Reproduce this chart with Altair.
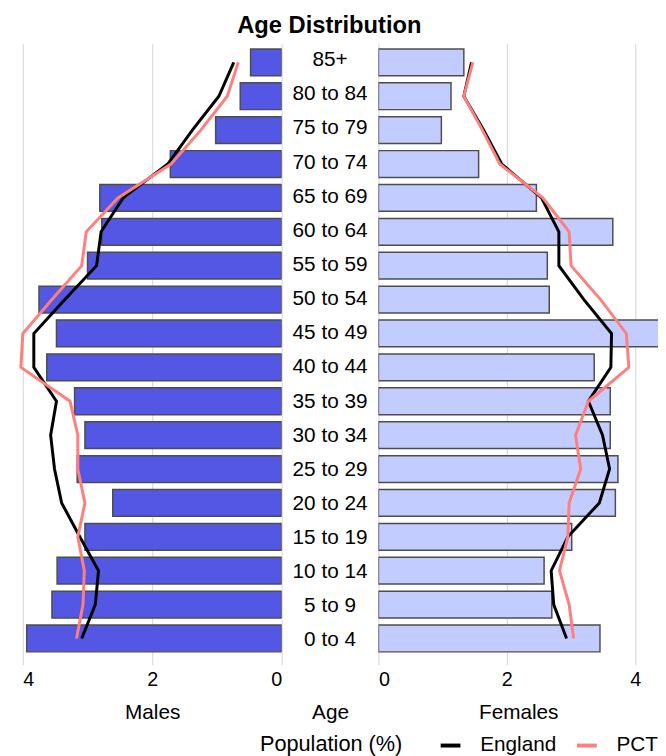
import altair as alt
import pandas as pd

ages = ["85+", "80 to 84", "75 to 79", "70 to 74", "65 to 69", "60 to 64",
        "55 to 59", "50 to 54", "45 to 49", "40 to 44", "35 to 39", "30 to 34",
        "25 to 29", "20 to 24", "15 to 19", "10 to 14", "5 to 9", "0 to 4"]

male_bar = [0.48, 0.64, 1.02, 1.72, 2.81, 2.78, 3.00, 3.75, 3.48, 3.63,
            3.20, 3.04, 3.16, 2.61, 3.04, 3.47, 3.55, 3.94]
female_bar = [1.33, 1.13, 0.98, 1.56, 2.46, 3.65, 2.63, 2.66, 4.50, 3.36,
              3.61, 3.61, 3.73, 3.69, 3.01, 2.58, 2.70, 3.45]

male_england = [0.74, 0.97, 1.38, 1.76, 2.45, 2.79, 2.86, 3.35, 3.83, 3.83,
                3.48, 3.57, 3.51, 3.40, 3.12, 2.83, 2.88, 3.09]
male_pct = [0.67, 0.84, 1.25, 1.71, 2.53, 3.02, 3.09, 3.55, 4.00, 4.03,
            3.27, 3.15, 3.15, 3.04, 3.15, 3.05, 3.07, 3.17]
female_england = [1.45, 1.33, 1.64, 1.92, 2.54, 2.81, 2.81, 3.20, 3.63, 3.62,
                  3.27, 3.49, 3.60, 3.44, 2.95, 2.69, 2.73, 2.93]
female_pct = [1.47, 1.33, 1.62, 1.89, 2.56, 2.97, 3.00, 3.46, 3.86, 3.90,
              3.27, 3.07, 3.15, 2.97, 2.95, 2.82, 2.97, 3.04]

series_names = ["England", "PCT"]
series_colors = ["#000000", "#ff7f7f"]

FONT = "Liberation Sans"
MALE_COLOR = "#5457e3"
FEMALE_COLOR = "#c3ccff"
H = 622

n = len(ages)
bars_df = pd.DataFrame({"age": ages, "idx": list(range(n)),
                        "male": male_bar, "female": female_bar,
                        "xm": [0.5] * n})
lines_m = pd.DataFrame({"age": ages * 2, "idx": list(range(n)) * 2,
                        "series": [series_names[0]] * n + [series_names[1]] * n,
                        "value": male_england + male_pct})
lines_f = pd.DataFrame({"age": ages * 2, "idx": list(range(n)) * 2,
                        "series": [series_names[0]] * n + [series_names[1]] * n,
                        "value": female_england + female_pct})

ysc = alt.Scale(domain=ages, paddingInner=0.21, paddingOuter=0.17)
yenc = alt.Y("age:N", scale=ysc, axis=None, sort=ages)

color_scale = alt.Scale(domain=series_names, range=series_colors)
legend = alt.Legend(title="Population (%)", orient="none", legendX=240, legendY=699,
                    direction="horizontal", titleOrient="left", symbolType="stroke",
                    symbolStrokeWidth=4, symbolSize=400, labelFontSize=21,
                    titleFontSize=22, titleFontWeight="normal", titlePadding=36,
                    columnPadding=12, labelOffset=18, padding=0,
                    titleFont=FONT, labelFont=FONT)


def xaxis(title):
    return alt.Axis(title=title, values=[0, 2, 4], format="d", grid=True,
                    gridColor="#d3d3d3", tickColor="#d3d3d3", tickSize=7,
                    labelPadding=5, titlePadding=13,
                    domain=False, labelFontSize=20, titleFontSize=21,
                    titleFontWeight="normal", labelColor="#000", titleColor="#000")


def panel(field, title, reverse, bar_color, lines_df, width, dmax):
    xs = alt.Scale(domain=[0, dmax], reverse=reverse, nice=False)
    bars = alt.Chart(bars_df).mark_bar(color=bar_color, stroke="#4d4d4d",
                                       strokeWidth=1.5, clip=True).encode(
        x=alt.X(f"{field}:Q", scale=xs, axis=xaxis(title)),
        y=yenc,
    )
    lines = alt.Chart(lines_df).mark_line(strokeWidth=3).encode(
        x=alt.X("value:Q", scale=xs, axis=xaxis(title)),
        y=yenc,
        color=alt.Color("series:N", scale=color_scale, legend=legend),
        order=alt.Order("idx:Q"),
    )
    return alt.layer(bars, lines).properties(width=width, height=H)


left = panel("male", "Males", True, MALE_COLOR, lines_m, 262, 4)
right = panel("female", "Females", False, FEMALE_COLOR, lines_f, 283, 283 / 65)

mid = alt.Chart(bars_df).mark_text(fontSize=21, font=FONT, color="#000").encode(
    x=alt.X("xm:Q", scale=alt.Scale(domain=[0, 1]),
            axis=alt.Axis(title="Age", values=[0.5], labelOpacity=0, tickOpacity=0,
                          tickSize=7, labelPadding=5, titlePadding=13,
                          domain=False, grid=False, labelFontSize=20,
                          titleFontSize=21, titleFontWeight="normal",
                          titleColor="#000")),
    y=yenc,
    text="age:N",
).properties(width=98, height=H)

chart = alt.hconcat(left, mid, right, spacing=0, bounds="flush").properties(
    title=alt.TitleParams("Age Distribution", fontSize=24, font=FONT,
                          fontWeight="bold", anchor="start", frame="bounds",
                          dx=225, offset=5, color="#000"),
    padding={"left": 7, "top": 2, "right": 0, "bottom": 0},
).configure(font=FONT).configure_view(stroke=None)

chart.save("out.html", embed_options={"renderer": "svg", "actions": False})
